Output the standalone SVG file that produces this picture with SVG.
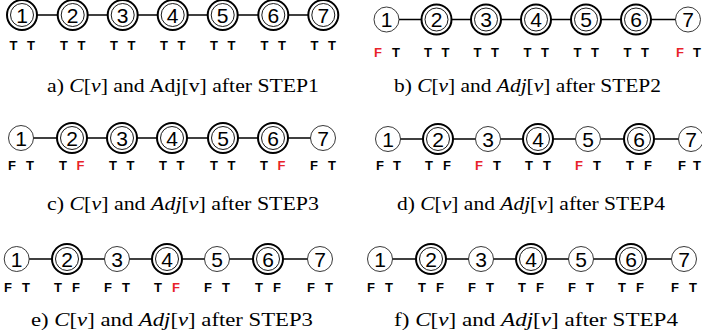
<svg xmlns="http://www.w3.org/2000/svg" width="702" height="336" viewBox="0 0 702 336">
<defs>
<style>
.bg{fill:#fff}
.e{stroke:#000;stroke-width:1.6;fill:none}
.s{fill:#fff;stroke:#222;stroke-width:0.9}
.o{fill:#fff;stroke:#000;stroke-width:2}
.i{fill:none;stroke:#000;stroke-width:0.9}
.n{font-family:"Liberation Sans",Arial,sans-serif;font-size:21px;text-anchor:middle;fill:#000}
.l{font-family:"Liberation Sans",Arial,sans-serif;font-size:13px;font-weight:bold;text-anchor:middle;fill:#000}
.r{fill:#e8232a}
.c{font-family:"Liberation Serif","Times New Roman",serif;font-size:18px;text-anchor:middle;fill:#000}
.it{font-style:italic}
</style>
</defs>
<rect class="bg" width="702" height="336"/>
<g id="connectors">
<line class="e" x1="22" y1="15" x2="323.3" y2="15"/>
<line class="e" x1="386.5" y1="19.5" x2="688" y2="19.5"/>
<line class="e" x1="21" y1="138" x2="323" y2="138"/>
<line class="e" x1="388" y1="139" x2="691" y2="139"/>
<line class="e" x1="16.7" y1="259" x2="320" y2="259"/>
<line class="e" x1="380" y1="259" x2="684" y2="259"/>
</g>
<!-- panel a -->
<g id="a1"><circle class="o" cx="22" cy="15" r="15"/><circle class="i" cx="22" cy="15" r="11.5"/><text class="n" x="22" y="22.5">1</text></g>
<g id="a2"><circle class="o" cx="72.7" cy="15" r="15"/><circle class="i" cx="72.7" cy="15" r="11.5"/><text class="n" x="72.7" y="22.5">2</text></g>
<g id="a3"><circle class="o" cx="122.7" cy="15" r="15"/><circle class="i" cx="122.7" cy="15" r="11.5"/><text class="n" x="122.7" y="22.5">3</text></g>
<g id="a4"><circle class="o" cx="172.7" cy="15" r="15"/><circle class="i" cx="172.7" cy="15" r="11.5"/><text class="n" x="172.7" y="22.5">4</text></g>
<g id="a5"><circle class="o" cx="222.7" cy="15" r="15"/><circle class="i" cx="222.7" cy="15" r="11.5"/><text class="n" x="222.7" y="22.5">5</text></g>
<g id="a6"><circle class="o" cx="273.3" cy="15" r="15"/><circle class="i" cx="273.3" cy="15" r="11.5"/><text class="n" x="273.3" y="22.5">6</text></g>
<g id="a7"><circle class="o" cx="323.3" cy="15" r="15"/><circle class="i" cx="323.3" cy="15" r="11.5"/><text class="n" x="323.3" y="22.5">7</text></g>
<g id="a-labels">
<text class="l" x="13.5" y="49.5">T</text><text class="l" x="31" y="49.5">T</text>
<text class="l" x="64" y="49.5">T</text><text class="l" x="81.5" y="49.5">T</text>
<text class="l" x="114" y="49.5">T</text><text class="l" x="131.5" y="49.5">T</text>
<text class="l" x="164" y="49.5">T</text><text class="l" x="181.5" y="49.5">T</text>
<text class="l" x="214" y="49.5">T</text><text class="l" x="231.5" y="49.5">T</text>
<text class="l" x="264.5" y="49.5">T</text><text class="l" x="282" y="49.5">T</text>
<text class="l" x="314.5" y="49.5">T</text><text class="l" x="332" y="49.5">T</text>
</g>
<text class="c" x="183" y="92" textLength="272" lengthAdjust="spacingAndGlyphs">a) <tspan class="it">C</tspan>[<tspan class="it">v</tspan>] and Adj[v] after STEP1</text>
<!-- panel b -->
<g id="b1"><circle class="s" cx="386.5" cy="19.5" r="12.5"/><text class="n" x="386.5" y="27">1</text></g>
<g id="b2"><circle class="o" cx="436.5" cy="19.5" r="15"/><circle class="i" cx="436.5" cy="19.5" r="11.5"/><text class="n" x="436.5" y="27">2</text></g>
<g id="b3"><circle class="o" cx="486" cy="19.5" r="15"/><circle class="i" cx="486" cy="19.5" r="11.5"/><text class="n" x="486" y="27">3</text></g>
<g id="b4"><circle class="o" cx="536" cy="19.5" r="15"/><circle class="i" cx="536" cy="19.5" r="11.5"/><text class="n" x="536" y="27">4</text></g>
<g id="b5"><circle class="o" cx="586" cy="19.5" r="15"/><circle class="i" cx="586" cy="19.5" r="11.5"/><text class="n" x="586" y="27">5</text></g>
<g id="b6"><circle class="o" cx="636" cy="19.5" r="15"/><circle class="i" cx="636" cy="19.5" r="11.5"/><text class="n" x="636" y="27">6</text></g>
<g id="b7"><circle class="s" cx="688" cy="19.5" r="12.5"/><text class="n" x="688" y="27">7</text></g>
<g id="b-labels">
<text class="l r" x="378" y="56.5">F</text><text class="l" x="396" y="56.5">T</text>
<text class="l" x="428" y="56.5">T</text><text class="l" x="445.5" y="56.5">T</text>
<text class="l" x="477.5" y="56.5">T</text><text class="l" x="495" y="56.5">T</text>
<text class="l" x="527.5" y="56.5">T</text><text class="l" x="545" y="56.5">T</text>
<text class="l" x="577.5" y="56.5">T</text><text class="l" x="595" y="56.5">T</text>
<text class="l" x="627.5" y="56.5">T</text><text class="l" x="645" y="56.5">T</text>
<text class="l r" x="680" y="56.5">F</text><text class="l" x="697" y="56.5">T</text>
</g>
<text class="c" x="527.5" y="92" textLength="267" lengthAdjust="spacingAndGlyphs">b) <tspan class="it">C</tspan>[<tspan class="it">v</tspan>] and <tspan class="it">Adj</tspan>[<tspan class="it">v</tspan>] after STEP2</text>
<!-- panel c -->
<g id="c1"><circle class="s" cx="21" cy="138" r="12.5"/><text class="n" x="21" y="145.5">1</text></g>
<g id="c2"><circle class="o" cx="72" cy="138" r="15"/><circle class="i" cx="72" cy="138" r="11.5"/><text class="n" x="72" y="145.5">2</text></g>
<g id="c3"><circle class="o" cx="122" cy="138" r="15"/><circle class="i" cx="122" cy="138" r="11.5"/><text class="n" x="122" y="145.5">3</text></g>
<g id="c4"><circle class="o" cx="172" cy="138" r="15"/><circle class="i" cx="172" cy="138" r="11.5"/><text class="n" x="172" y="145.5">4</text></g>
<g id="c5"><circle class="o" cx="223" cy="138" r="15"/><circle class="i" cx="223" cy="138" r="11.5"/><text class="n" x="223" y="145.5">5</text></g>
<g id="c6"><circle class="o" cx="273" cy="138" r="15"/><circle class="i" cx="273" cy="138" r="11.5"/><text class="n" x="273" y="145.5">6</text></g>
<g id="c7"><circle class="s" cx="323" cy="138" r="12.5"/><text class="n" x="323" y="145.5">7</text></g>
<g id="c-labels">
<text class="l" x="12" y="169.5">F</text><text class="l" x="30" y="169.5">T</text>
<text class="l" x="63" y="169.5">T</text><text class="l r" x="80.5" y="169.5">F</text>
<text class="l" x="113" y="169.5">T</text><text class="l" x="130.5" y="169.5">T</text>
<text class="l" x="163" y="169.5">T</text><text class="l" x="180.5" y="169.5">T</text>
<text class="l" x="214" y="169.5">T</text><text class="l" x="231.5" y="169.5">T</text>
<text class="l" x="264" y="169.5">T</text><text class="l r" x="281.5" y="169.5">F</text>
<text class="l" x="314" y="169.5">F</text><text class="l" x="332" y="169.5">T</text>
</g>
<text class="c" x="183" y="210" textLength="272" lengthAdjust="spacingAndGlyphs">c) <tspan class="it">C</tspan>[<tspan class="it">v</tspan>] and <tspan class="it">Adj</tspan>[<tspan class="it">v</tspan>] after STEP3</text>
<!-- panel d -->
<g id="d1"><circle class="s" cx="388" cy="139" r="12.5"/><text class="n" x="388" y="146.5">1</text></g>
<g id="d2"><circle class="o" cx="438" cy="139" r="15"/><circle class="i" cx="438" cy="139" r="11.5"/><text class="n" x="438" y="146.5">2</text></g>
<g id="d3"><circle class="s" cx="488" cy="139" r="12.5"/><text class="n" x="488" y="146.5">3</text></g>
<g id="d4"><circle class="o" cx="538" cy="139" r="15"/><circle class="i" cx="538" cy="139" r="11.5"/><text class="n" x="538" y="146.5">4</text></g>
<g id="d5"><circle class="s" cx="588" cy="139" r="12.5"/><text class="n" x="588" y="146.5">5</text></g>
<g id="d6"><circle class="o" cx="639" cy="139" r="15"/><circle class="i" cx="639" cy="139" r="11.5"/><text class="n" x="639" y="146.5">6</text></g>
<g id="d7"><circle class="s" cx="691" cy="139" r="12.5"/><text class="n" x="691" y="146.5">7</text></g>
<g id="d-labels">
<text class="l" x="380" y="169.5">F</text><text class="l" x="397" y="169.5">T</text>
<text class="l" x="429" y="169.5">T</text><text class="l" x="447" y="169.5">F</text>
<text class="l r" x="479" y="169.5">F</text><text class="l" x="497" y="169.5">T</text>
<text class="l" x="529" y="169.5">T</text><text class="l" x="547" y="169.5">T</text>
<text class="l r" x="579" y="169.5">F</text><text class="l" x="597" y="169.5">T</text>
<text class="l" x="630" y="169.5">T</text><text class="l" x="648" y="169.5">F</text>
<text class="l" x="682" y="169.5">F</text><text class="l" x="697" y="169.5">T</text>
</g>
<text class="c" x="531" y="210" textLength="268" lengthAdjust="spacingAndGlyphs">d) <tspan class="it">C</tspan>[<tspan class="it">v</tspan>] and <tspan class="it">Adj</tspan>[<tspan class="it">v</tspan>] after STEP4</text>
<!-- panel e -->
<g id="e1"><circle class="s" cx="16.7" cy="259" r="12.5"/><text class="n" x="16.7" y="266.5">1</text></g>
<g id="e2"><circle class="o" cx="67" cy="259" r="15"/><circle class="i" cx="67" cy="259" r="11.5"/><text class="n" x="67" y="266.5">2</text></g>
<g id="e3"><circle class="s" cx="117" cy="259" r="12.5"/><text class="n" x="117" y="266.5">3</text></g>
<g id="e4"><circle class="o" cx="167" cy="259" r="15"/><circle class="i" cx="167" cy="259" r="11.5"/><text class="n" x="167" y="266.5">4</text></g>
<g id="e5"><circle class="s" cx="217" cy="259" r="12.5"/><text class="n" x="217" y="266.5">5</text></g>
<g id="e6"><circle class="o" cx="268" cy="259" r="15"/><circle class="i" cx="268" cy="259" r="11.5"/><text class="n" x="268" y="266.5">6</text></g>
<g id="e7"><circle class="s" cx="320" cy="259" r="12.5"/><text class="n" x="320" y="266.5">7</text></g>
<g id="e-labels">
<text class="l" x="8" y="291.5">F</text><text class="l" x="26" y="291.5">T</text>
<text class="l" x="58" y="291.5">T</text><text class="l" x="76" y="291.5">F</text>
<text class="l" x="108" y="291.5">F</text><text class="l" x="126" y="291.5">T</text>
<text class="l" x="158" y="291.5">T</text><text class="l r" x="176" y="291.5">F</text>
<text class="l" x="208" y="291.5">F</text><text class="l" x="226" y="291.5">T</text>
<text class="l" x="259" y="291.5">T</text><text class="l" x="277" y="291.5">F</text>
<text class="l" x="311" y="291.5">F</text><text class="l" x="329" y="291.5">T</text>
</g>
<text class="c" x="172" y="326" textLength="282" lengthAdjust="spacingAndGlyphs">e) <tspan class="it">C</tspan>[<tspan class="it">v</tspan>] and <tspan class="it">Adj</tspan>[<tspan class="it">v</tspan>] after STEP3</text>
<!-- panel f -->
<g id="f1"><circle class="s" cx="380" cy="259" r="12.5"/><text class="n" x="380" y="266.5">1</text></g>
<g id="f2"><circle class="o" cx="431" cy="259" r="15"/><circle class="i" cx="431" cy="259" r="11.5"/><text class="n" x="431" y="266.5">2</text></g>
<g id="f3"><circle class="s" cx="481" cy="259" r="12.5"/><text class="n" x="481" y="266.5">3</text></g>
<g id="f4"><circle class="o" cx="531" cy="259" r="15"/><circle class="i" cx="531" cy="259" r="11.5"/><text class="n" x="531" y="266.5">4</text></g>
<g id="f5"><circle class="s" cx="581" cy="259" r="12.5"/><text class="n" x="581" y="266.5">5</text></g>
<g id="f6"><circle class="o" cx="631" cy="259" r="15"/><circle class="i" cx="631" cy="259" r="11.5"/><text class="n" x="631" y="266.5">6</text></g>
<g id="f7"><circle class="s" cx="684" cy="259" r="12.5"/><text class="n" x="684" y="266.5">7</text></g>
<g id="f-labels">
<text class="l" x="371" y="291.5">F</text><text class="l" x="389" y="291.5">T</text>
<text class="l" x="422" y="291.5">T</text><text class="l" x="440" y="291.5">F</text>
<text class="l" x="472" y="291.5">F</text><text class="l" x="490" y="291.5">T</text>
<text class="l" x="522" y="291.5">T</text><text class="l" x="540" y="291.5">F</text>
<text class="l" x="572" y="291.5">F</text><text class="l" x="590" y="291.5">T</text>
<text class="l" x="622" y="291.5">T</text><text class="l" x="640" y="291.5">F</text>
<text class="l" x="675" y="291.5">F</text><text class="l" x="693" y="291.5">T</text>
</g>
<text class="c" x="536" y="326" textLength="284" lengthAdjust="spacingAndGlyphs">f) <tspan class="it">C</tspan>[<tspan class="it">v</tspan>] and <tspan class="it">Adj</tspan>[<tspan class="it">v</tspan>] after STEP4</text>
</svg>
